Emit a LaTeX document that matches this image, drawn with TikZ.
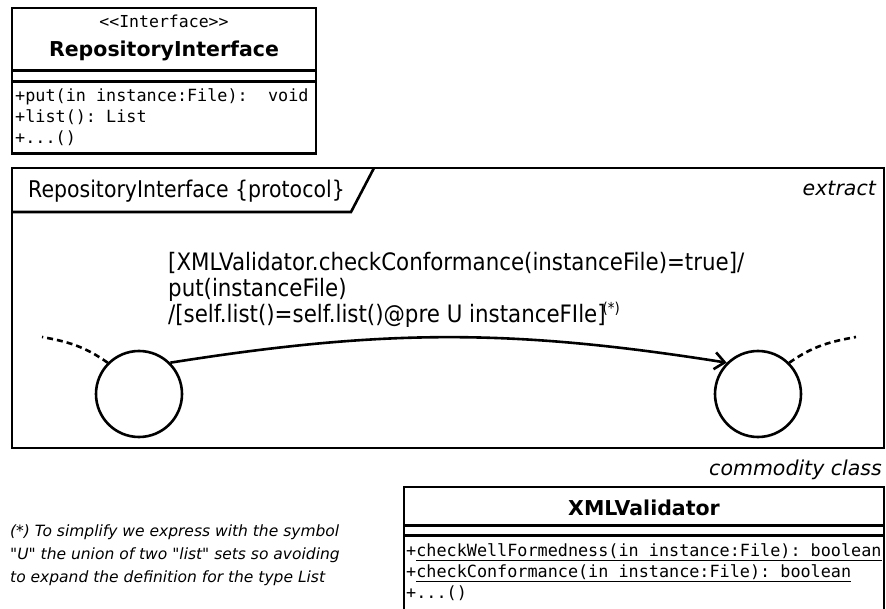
\documentclass[tikz,border=0pt]{standalone}
\usepackage{fontspec}
\setmainfont{DejaVu Sans}
\setmonofont{DejaVu Sans Mono}
\newfontfamily\condfont[FakeStretch=0.89]{DejaVu Sans}
\usetikzlibrary{arrows.meta,positioning}

\tikzset{
  uml/.style={line width=2.6pt},
  classname/.style={inner sep=0pt,font=\fontsize{20.5}{24}\selectfont\bfseries},
  stereo/.style={inner sep=0pt,font=\fontsize{16.5}{20}\selectfont\ttfamily},
  ops/.style={inner sep=0pt,align=left,font=\fontsize{16.8}{21}\selectfont\ttfamily},
  tag/.style={inner sep=0pt,font=\fontsize{20.5}{24}\selectfont\itshape},
  frametext/.style={inner sep=0pt,align=left,font=\fontsize{24}{26}\selectfont\condfont},
  note/.style={inner sep=0pt,align=left,font=\fontsize{15.5}{23}\selectfont\itshape},
}

\begin{document}
\begin{tikzpicture}[x=1pt,y=1pt]
\useasboundingbox (0,0) rectangle (886,-609);

% interface class
\draw[uml] (12,-8) rectangle (316,-153.5);
\draw[uml] (12,-70.8) -- (316,-70.8);
\draw[uml] (12,-81.5) -- (316,-81.5);
\node[stereo,anchor=base] (S) at (164,-27.5) {<{}<Interface>{}>};
\node[classname,anchor=base] (I) at (164,-56.5) {RepositoryInterface};
% base of a multi-line node = baseline of its last line
\node[ops,anchor=base west] (O) at (15,-144) {+put(in instance:File):~~void\\+list(): List\\+...()};

% protocol state machine frame
\draw[uml] (12,-168) rectangle (884,-448);
\draw[uml] (12,-212) -- (351,-212) -- (374,-168);
\node[frametext,anchor=base west,font=\fontsize{23}{26}\selectfont\condfont] (P) at (28,-198) {RepositoryInterface \{protocol\}};
\node[tag,anchor=base east] (E) at (876,-196) {extract};

\begin{scope}[every node/.style={circle,draw,line width=2.6pt,minimum size=86pt,inner sep=0pt}]
    \node (A) at (139,-394) {};
    \node (B) at (758,-394) {};
\end{scope}
\coordinate (L) at (42,-337);
\coordinate (R) at (856,-337);

\begin{scope}[every edge/.style={draw,line width=2.6pt}]
    \path [-{Straight Barb[length=10pt,width=17pt]}] (A.45) edge[bend left=9] (B.135);
    \path [-] (A.135) edge[out=145,in=-10,dash pattern=on 6pt off 4pt] (L);
    \path [-] (B.45) edge[out=35,in=190,dash pattern=on 6pt off 4pt] (R);
\end{scope}
\node[frametext,anchor=base west] (G) at (168,-323) {[XMLValidator.checkConformance(instanceFile)=true]/\\put(instanceFile)\\/[self.list()=self.list()@pre U instanceFIle]\kern-3pt\raisebox{9pt}{\fontsize{15}{15}\selectfont(*)}};

% commodity class
\node[tag,anchor=base east] (C) at (882,-475) {commodity class};
\draw[uml] (404,-487) rectangle (884,-611);
\draw[uml] (404,-525.5) -- (884,-525.5);
\draw[uml] (404,-535.5) -- (884,-535.5);
\node[classname,anchor=base] (X) at (644,-515) {XMLValidator};
\node[ops,anchor=base west,font=\fontsize{16.8}{20.7}\selectfont\ttfamily] (V) at (406,-598) {+\underline{checkWellFormedness(in instance:File): boolean}\\+\underline{checkConformance(in instance:File): boolean}\\+...()};

% footnote
\node[note,anchor=base west] (N) at (10,-582) {(*) To simplify we express with the symbol\\\textquotedbl U\textquotedbl{} the union of two \textquotedbl list\textquotedbl{} sets so avoiding\\to expand the definition for the type List};
\end{tikzpicture}
\end{document}
